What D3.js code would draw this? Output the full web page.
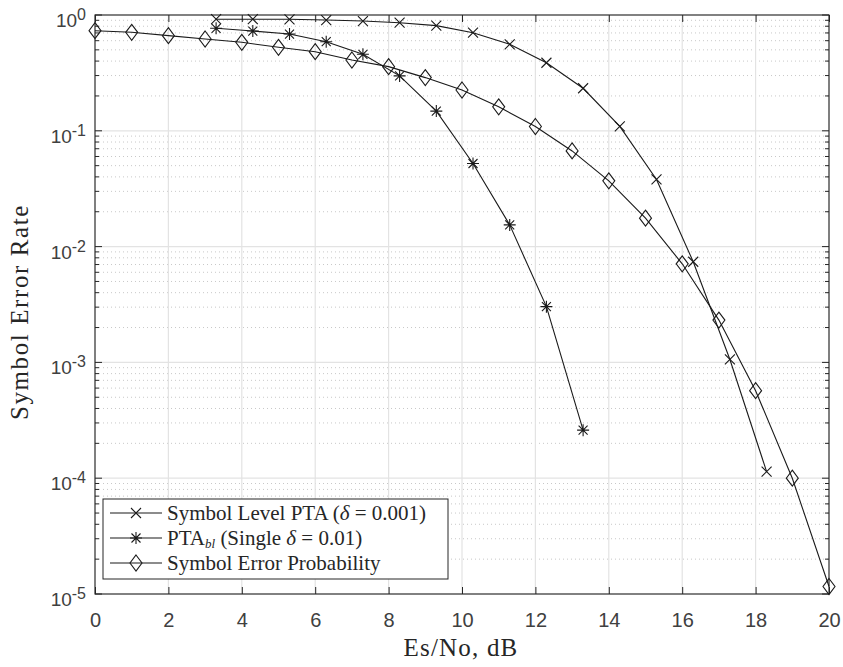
<!DOCTYPE html>
<html>
<head>
<meta charset="utf-8">
<script src="https://cdn.jsdelivr.net/npm/d3@7"></script>
<style>
  body { margin: 0; background: #fff; }
  svg { display: block; }
</style>
</head>
<body>
<div id="chart"></div>
<script>
// x values (Es/No, dB) and symbol error rates
var ptaX = [3.3, 4.3, 5.3, 6.3, 7.3, 8.3, 9.3, 10.3, 11.3, 12.3, 13.3, 14.3, 15.3, 16.3, 17.3, 18.3];
var ptaY = [0.92, 0.92, 0.918, 0.905, 0.887, 0.858, 0.81, 0.703, 0.558, 0.387, 0.233, 0.109, 0.038, 0.0074, 0.00106, 0.000114];

var blX = [3.3, 4.3, 5.3, 6.3, 7.3, 8.3, 9.3, 10.3, 11.3, 12.3, 13.3];
var blY = [0.768, 0.727, 0.685, 0.588, 0.458, 0.298, 0.148, 0.0522, 0.0154, 0.00303, 0.00026];

var sepX = [0, 1, 2, 3, 4, 5, 6, 7, 8, 9, 10, 11, 12, 13, 14, 15, 16, 17, 18, 19, 20];
var sepY = [0.732, 0.709, 0.663, 0.62, 0.581, 0.526, 0.482, 0.409, 0.358, 0.288, 0.225, 0.161, 0.109, 0.067, 0.037, 0.0176, 0.0071, 0.00232, 0.00057, 0.0001, 0.0000116];

var xTicks = [0, 2, 4, 6, 8, 10, 12, 14, 16, 18, 20];
var yExponents = [-5, -4, -3, -2, -1, 0];

var width = 843, height = 667;
var margin = {top: 15, right: 14, bottom: 73, left: 95};
var plotW = width - margin.left - margin.right,
    plotH = height - margin.top - margin.bottom;

var axisColor = "#262626";
var lineColor = "#1a1a1a";
var serif = "'Liberation Serif', 'DejaVu Serif', serif";
var sans = "'Liberation Sans', Arial, sans-serif";

var svg = d3.select("#chart")
  .append("svg")
    .attr("width", width)
    .attr("height", height);

var g = svg.append("g")
    .attr("transform", "translate(" + margin.left + "," + margin.top + ")");

var x = d3.scaleLinear().domain([0, 20]).range([0, plotW]);
var y = d3.scaleLog().domain([1e-5, 1]).range([plotH, 0]);

// minor log values
var minorVals = [];
yExponents.slice(0, -1).forEach(function(e) {
  for (var k = 2; k <= 9; k++) minorVals.push(k * Math.pow(10, e));
});
var majorVals = yExponents.map(function(e) { return Math.pow(10, e); });

// grid
g.append("g").selectAll("line")
  .data(minorVals)
  .enter().append("line")
    .attr("x1", 0).attr("x2", plotW)
    .attr("y1", function(d) { return y(d); })
    .attr("y2", function(d) { return y(d); })
    .attr("stroke", "#c8c8c8")
    .attr("stroke-width", 1)
    .attr("stroke-dasharray", "1,3");

g.append("g").selectAll("line")
  .data(majorVals)
  .enter().append("line")
    .attr("x1", 0).attr("x2", plotW)
    .attr("y1", function(d) { return y(d); })
    .attr("y2", function(d) { return y(d); })
    .attr("stroke", "#e3e3e3")
    .attr("stroke-width", 1.2);

g.append("g").selectAll("line")
  .data(xTicks)
  .enter().append("line")
    .attr("x1", function(d) { return x(d); })
    .attr("x2", function(d) { return x(d); })
    .attr("y1", 0).attr("y2", plotH)
    .attr("stroke", "#e3e3e3")
    .attr("stroke-width", 1.2);

// axes with inward ticks
var bottomAxis = d3.axisBottom(x).tickValues(xTicks).tickSizeInner(-7).tickSizeOuter(0).tickPadding(19);
g.append("g")
  .attr("transform", "translate(0," + plotH + ")")
  .call(bottomAxis)
  .call(function(s) {
    s.select(".domain").remove();
    s.selectAll("line").attr("stroke", axisColor);
    s.selectAll("text")
      .attr("fill", "#404040")
      .style("font-family", sans)
      .style("font-size", "20px");
  });

var topAxis = d3.axisTop(x).tickValues(xTicks).tickSizeInner(-7).tickSizeOuter(0).tickFormat("");
g.append("g")
  .call(topAxis)
  .call(function(s) {
    s.select(".domain").remove();
    s.selectAll("line").attr("stroke", axisColor);
  });

[[0, 1], [plotW, -1]].forEach(function(side) {
  var grp = g.append("g");
  grp.selectAll("line.maj")
    .data(majorVals)
    .enter().append("line")
      .attr("x1", side[0]).attr("x2", side[0] + side[1] * 7)
      .attr("y1", function(d) { return y(d); })
      .attr("y2", function(d) { return y(d); })
      .attr("stroke", axisColor);
  grp.selectAll("line.min")
    .data(minorVals)
    .enter().append("line")
      .attr("x1", side[0]).attr("x2", side[0] + side[1] * 4)
      .attr("y1", function(d) { return y(d); })
      .attr("y2", function(d) { return y(d); })
      .attr("stroke", axisColor);
});

// y tick labels as 10^n
var yLab = g.append("g").selectAll("text")
  .data(yExponents)
  .enter().append("text")
    .attr("x", -9)
    .attr("y", function(d) { return y(Math.pow(10, d)) + 12; })
    .attr("text-anchor", "end")
    .attr("fill", "#404040")
    .style("font-family", sans)
    .style("font-size", "19px");
yLab.append("tspan").text("10");
yLab.append("tspan")
  .attr("dy", -7)
  .style("font-size", "16px")
  .text(function(d) { return d; });

// box
g.append("rect")
  .attr("width", plotW).attr("height", plotH)
  .attr("fill", "none")
  .attr("stroke", axisColor)
  .attr("stroke-width", 1.1);

// axis labels
svg.append("text")
  .attr("x", 461)
  .attr("y", 656)
  .attr("text-anchor", "middle")
  .attr("fill", axisColor)
  .style("font-family", serif)
  .style("font-size", "25px")
  .style("letter-spacing", "1.2px")
  .text("Es/No, dB");

svg.append("text")
  .attr("transform", "translate(28,312) rotate(-90)")
  .attr("text-anchor", "middle")
  .attr("fill", axisColor)
  .style("font-family", serif)
  .style("font-size", "25px")
  .style("letter-spacing", "1.6px")
  .text("Symbol Error Rate");

// markers
function drawMarker(sel, type) {
  if (type === "x") {
    sel.append("path").attr("d", "M-5,-5L5,5M-5,5L5,-5");
  } else if (type === "star") {
    sel.append("path").attr("d", "M-6,0L6,0M0,-6L0,6M-4.5,-4.5L4.5,4.5M-4.5,4.5L4.5,-4.5");
  } else {
    sel.append("path").attr("d", "M0,-8L6,0L0,8L-6,0Z").attr("fill", "none");
  }
}

var series = [
  {xs: ptaX, ys: ptaY, marker: "x"},
  {xs: blX, ys: blY, marker: "star"},
  {xs: sepX, ys: sepY, marker: "diamond"}
];

var line = d3.line()
  .x(function(d) { return x(d[0]); })
  .y(function(d) { return y(d[1]); });

series.forEach(function(s) {
  var pts = s.xs.map(function(v, i) { return [v, s.ys[i]]; });
  g.append("path")
    .datum(pts)
    .attr("fill", "none")
    .attr("stroke", lineColor)
    .attr("stroke-width", 1.1)
    .attr("d", line);
  g.append("g").selectAll("g")
    .data(pts)
    .enter().append("g")
      .attr("transform", function(d) { return "translate(" + x(d[0]) + "," + y(d[1]) + ")"; })
      .attr("stroke", lineColor)
      .attr("stroke-width", 1.1)
      .attr("fill", "none")
      .each(function() { drawMarker(d3.select(this), s.marker); });
});

// legend
var legend = svg.append("g").attr("transform", "translate(103,499)");
legend.append("rect")
  .attr("width", 345).attr("height", 80)
  .attr("fill", "#fff")
  .attr("stroke", axisColor)
  .attr("stroke-width", 1);

var legendRows = [
  {marker: "x", parts: [["Symbol Level PTA (", ""], ["δ", "i"], [" = 0.001)", ""]]},
  {marker: "star", parts: [["PTA", ""], ["bl", "sub"], [" (Single ", ""], ["δ", "i"], [" = 0.01)", ""]]},
  {marker: "diamond", parts: [["Symbol Error Probability", ""]]}
];

legendRows.forEach(function(r, i) {
  var row = legend.append("g").attr("transform", "translate(0," + (14 + i * 25) + ")");
  row.append("line")
    .attr("x1", 7).attr("x2", 59)
    .attr("stroke", lineColor).attr("stroke-width", 1.1);
  var m = row.append("g")
    .attr("transform", "translate(33,0)")
    .attr("stroke", lineColor).attr("stroke-width", 1.1).attr("fill", "none");
  drawMarker(m, r.marker);
  var t = row.append("text")
    .attr("x", 64).attr("y", 7)
    .attr("fill", axisColor)
    .style("font-family", serif)
    .style("font-size", "21px");
  var shifted = false;
  r.parts.forEach(function(p) {
    var ts = t.append("tspan").text(p[0]);
    if (p[1] === "i") ts.style("font-style", "italic");
    if (p[1] === "sub") {
      ts.style("font-style", "italic").style("font-size", "13px").attr("dy", 3);
      shifted = true;
    } else if (shifted) {
      ts.attr("dy", -3);
      shifted = false;
    }
  });
});
</script>
</body>
</html>
